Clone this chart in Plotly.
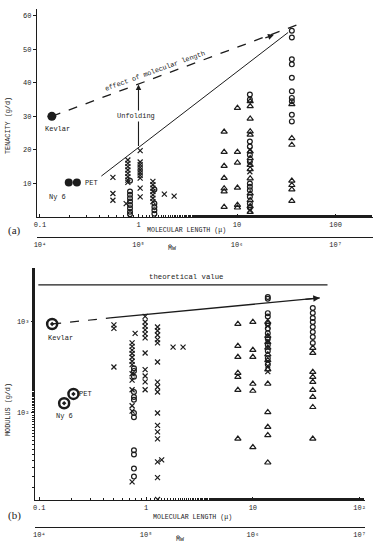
import math
import plotly.graph_objects as go

W, H = 379, 550
INK = "#1c1c1c"
MONO = "Liberation Mono"

# ---------------- Panel (a): tenacity (g/d) vs molecular length (micron)
a_kevlar_L = [0.132]
a_kevlar_v = [30]
a_fibers_L = [0.196, 0.237]   # Ny 6, PET
a_fibers_v = [10.3, 10.3]

a_crossA_L, a_crossA_v = 0.55, [11.8, 7.0, 5.0]
a_crossB_L, a_crossB_v = 0.78, [17, 16, 15, 14, 13, 12, 11, 10.3]
a_crossB2_L, a_crossB2_v = 0.75, [4.0]
a_crossC_L, a_crossC_v = 1.04, [19.8, 16.4, 15.6, 14.8, 14.0, 13.2, 12.4, 11.6, 8.6, 6.0]
a_crossD_L, a_crossD_v = 1.40, [10.6, 9.6, 8.6, 7.6, 6.6, 5.6, 4.6]
a_crossE_L, a_crossE_v = [1.83, 2.3], [6.8, 6.2]
a_crossT3_L, a_crossT3_v = 13.5, [20, 16, 13.5, 2]

a_circB_L, a_circB_v = 0.82, [10.8, 7.6, 6.6, 5.6, 4.6, 3.6, 2.6, 1.6, 0.8]
a_circD_L, a_circD_v = 1.45, [8.2, 4.0, 3.0, 2.0, 1.0]
a_circT3_L, a_circT3_v = 13.5, [36.5, 35, 22.5, 21, 18.5, 16.5, 10, 9, 8, 6, 4, 2.8]
a_circT4_L, a_circT4_v = 36, [55.5, 53.5, 47, 45.5, 41.5, 37.5, 35.5, 34.5, 30.5, 28.5]

a_triT1_L, a_triT1_v = 7.4, [25.4, 19.4, 15.2, 11.6, 8.5, 7.6, 3.0]
a_triT2_L, a_triT2_v = 10.1, [32.5, 19.4, 16.2, 8.7, 3.6, 2.8]
a_triT3_L, a_triT3_v = 13.6, [34.5, 33, 29.3, 25.5, 24.5, 19.5, 17.5, 15.5, 14.2, 11.5, 7, 5, 3.2, 1.5]
a_triT4_L, a_triT4_v = 36, [33.6, 23.5, 21.5, 10.8, 9.5, 8.2, 4.8]

a_trend_L, a_trend_v = [0.42, 33], [12.2, 55]           # solid line
a_effect_L, a_effect_v = [0.132, 41], [30, 57.3]         # dashed line
a_effect_arrow_L, a_effect_arrow_v = [18.7, 23.7], [53.25, 54.3]
a_unfold_L, a_unfold_v = [1.0, 1.0], [20.7, 39.5]

a_xticks = [0.1, 1, 10, 100]
a_xticktext = ["0.1", "1", "10", "100"]
a_yticks = [10, 20, 30, 40, 50, 60]
mw_ticks = [1e4, 1e5, 1e6, 1e7]
mw_ticktext = ["10⁴", "10⁵", "10⁶", "10⁷"]

# ---------------- Panel (b): modulus (g/d) vs molecular length
b_kevlar_L, b_kevlar_v = [0.132], [951]
b_fibers_L, b_fibers_v = [0.171, 0.209], [128, 162]   # Ny 6, PET

b_crossB1_L, b_crossB1_v = 0.5, [930, 850, 320]
b_crossB2_L, b_crossB2_v = 0.74, [590, 540, 490, 450, 410, 370, 340, 270, 230, 180, 120, 105, 17.5]
b_crossB2b_L, b_crossB2b_v = 0.79, [750]
b_crossB3_L, b_crossB3_v = 0.98, [1150, 1000, 900, 820, 740, 670, 456, 300, 255, 220, 180]
b_crossB4_L, b_crossB4_v = 1.28, [880, 800, 720, 640, 590, 363, 218, 193, 170, 100, 73, 62, 52, 29, 19.5, 11.2]
b_crossB4b_L, b_crossB4b_v = 1.4, [30.5]
b_crossB5_L, b_crossB5_v = [1.79, 2.22], [530, 530]
b_crossT3_L, b_crossT3_v = 13.8, [900, 620, 330, 285]

b_circB2_L, b_circB2_v = 0.77, [310, 290, 250, 170, 150, 140, 100, 90, 39, 35, 24.5, 20]
b_circT3_L, b_circT3_v = 13.8, [1880, 1800, 1250, 1150, 950, 850, 750, 650, 560, 480, 400, 340]
b_circT4_L, b_circT4_v = 36.4, [1425, 1256, 1107, 1000, 880, 776, 684, 588]

b_triT1_L, b_triT1_v = 7.24, [951, 545, 412, 275, 249, 179, 52]
b_triT2_L, b_triT2_v = 10.0, [1000, 492, 412, 209, 175, 42]
b_triT3_L, b_triT3_v = 13.8, [1000, 700, 600, 520, 440, 380, 300, 209, 102, 70, 57, 28.5]
b_triT4_L, b_triT4_v = 36.4, [518, 456, 282, 249, 219, 179, 150, 116, 52]

b_theory_L, b_theory_v = [0.098, 50], [2550, 2550]
b_dash_L, b_dash_v = [0.132, 0.46], [951, 1107]
b_arrow_L, b_arrow_v = [0.46, 42.3], [1107, 1837]
b_arrowhead_L, b_arrowhead_v = [30, 42.3], [1765, 1837]

b_xticks = [0.1, 1, 10, 100]
b_xticktext = ["0.1", "1", "10", "10²"]
b_yticks = [100, 1000]
b_yticktext = ["10²", "10³"]


def fx(p):
    return p / W


def fy(p):
    return 1 - p / H


def col(L, vals):
    if isinstance(L, list):
        return L, vals
    return [L] * len(vals), vals


def merge(*cols):
    xs, ys = [], []
    for L, v in cols:
        cx, cy = col(L, v)
        xs += cx
        ys += cy
    return xs, ys


fig = go.Figure()

cross = dict(symbol="x-thin", size=5, color=INK, line=dict(width=1.2, color=INK))
circ = dict(symbol="circle-open", size=4.8, color=INK, line=dict(width=1.2, color=INK))
tri = dict(symbol="triangle-up-open", size=5.5, color=INK, line=dict(width=1.2, color=INK))


def pts(xs, ys, marker, xa, ya):
    fig.add_trace(go.Scatter(x=xs, y=ys, mode="markers", marker=marker,
                             xaxis=xa, yaxis=ya, showlegend=False, hoverinfo="skip"))


def line(xs, ys, xa, ya, dash="solid", width=1):
    fig.add_trace(go.Scatter(x=xs, y=ys, mode="lines", line=dict(color=INK, width=width, dash=dash),
                             xaxis=xa, yaxis=ya, showlegend=False, hoverinfo="skip"))


# ---- panel a traces
line(a_trend_L, a_trend_v, "x", "y")
line(a_effect_L, a_effect_v, "x", "y", dash="dash", width=1.3)
x, y = merge((a_crossA_L, a_crossA_v), (a_crossB_L, a_crossB_v), (a_crossB2_L, a_crossB2_v),
             (a_crossC_L, a_crossC_v), (a_crossD_L, a_crossD_v), (a_crossE_L, a_crossE_v),
             (a_crossT3_L, a_crossT3_v))
pts(x, y, cross, "x", "y")
x, y = merge((a_circB_L, a_circB_v), (a_circD_L, a_circD_v), (a_circT3_L, a_circT3_v),
             (a_circT4_L, a_circT4_v))
pts(x, y, circ, "x", "y")
x, y = merge((a_triT1_L, a_triT1_v), (a_triT2_L, a_triT2_v), (a_triT3_L, a_triT3_v),
             (a_triT4_L, a_triT4_v))
pts(x, y, tri, "x", "y")
pts(a_kevlar_L, a_kevlar_v, dict(symbol="circle", size=9, color=INK), "x", "y")
pts(a_fibers_L, a_fibers_v, dict(symbol="circle", size=8, color=INK), "x", "y")

# ---- panel b traces
line(b_theory_L, b_theory_v, "x2", "y2", width=1.2)
line(b_dash_L, b_dash_v, "x2", "y2", dash="dash", width=1.2)
line(b_arrow_L, b_arrow_v, "x2", "y2", width=1.3)
x, y = merge((b_crossB1_L, b_crossB1_v), (b_crossB2_L, b_crossB2_v), (b_crossB2b_L, b_crossB2b_v),
             (b_crossB3_L, b_crossB3_v), (b_crossB4_L, b_crossB4_v), (b_crossB4b_L, b_crossB4b_v),
             (b_crossB5_L, b_crossB5_v), (b_crossT3_L, b_crossT3_v))
pts(x, y, cross, "x2", "y2")
x, y = merge((b_circB2_L, b_circB2_v), (b_circT3_L, b_circT3_v), (b_circT4_L, b_circT4_v))
pts(x, y, circ, "x2", "y2")
x, y = merge((b_triT1_L, b_triT1_v), (b_triT2_L, b_triT2_v), (b_triT3_L, b_triT3_v),
             (b_triT4_L, b_triT4_v))
pts(x, y, tri, "x2", "y2")
bigring = dict(symbol="circle-open-dot", size=10, color=INK, line=dict(width=2.5, color=INK))
pts(b_kevlar_L, b_kevlar_v, bigring, "x2", "y2")
pts(b_fibers_L, b_fibers_v, bigring, "x2", "y2")

# invisible anchors for the Mw axes
fig.add_trace(go.Scatter(x=[1e5], y=[None], xaxis="x3", yaxis="y", mode="markers",
                         showlegend=False, hoverinfo="skip"))
fig.add_trace(go.Scatter(x=[1e5], y=[None], xaxis="x4", yaxis="y2", mode="markers",
                         showlegend=False, hoverinfo="skip"))

tickfont = dict(family=MONO, size=7, color=INK)
base = dict(showline=True, linecolor=INK, linewidth=1.2, showgrid=False, zeroline=False,
            tickfont=tickfont, tickcolor=INK)

fig.update_layout(
    template="none",
    font=dict(family=MONO, color=INK, size=7),
    width=W, height=H, margin=dict(l=0, r=0, t=0, b=0, pad=0),
    paper_bgcolor="white", plot_bgcolor="white", showlegend=False,
    xaxis=dict(base, type="log", range=[-1.03, 2.38], domain=[fx(37), fx(373)], anchor="y",
               tickvals=a_xticks, ticktext=a_xticktext, ticks="inside", ticklen=3,
               minor=dict(ticks="inside", ticklen=2, tickcolor=INK, showgrid=False)),
    yaxis=dict(base, range=[0, 62], domain=[fy(217), fy(9)], anchor="x",
               tickvals=a_yticks, ticks="outside", ticklen=3),
    xaxis2=dict(base, type="log", range=[-1.04, 2.05], domain=[fx(35), fx(365)], anchor="y2",
                tickvals=b_xticks, ticktext=b_xticktext, ticks="inside", ticklen=3,
                minor=dict(ticks="inside", ticklen=2, tickcolor=INK, showgrid=False)),
    yaxis2=dict(base, type="log", range=[1.044, 3.593], domain=[fy(500), fy(268)], anchor="x2",
                tickvals=b_yticks, ticktext=b_yticktext, ticks="outside", ticklen=3,
                minor=dict(ticks="outside", ticklen=2, tickcolor=INK, showgrid=False)),
    xaxis3=dict(base, type="log", range=[3.97, 7.38], overlaying="x", anchor="free",
                position=fy(237), side="bottom", tickvals=mw_ticks, ticktext=mw_ticktext, ticks=""),
    xaxis4=dict(base, type="log", range=[3.96, 7.05], overlaying="x2", anchor="free",
                position=fy(527), side="bottom", tickvals=mw_ticks, ticktext=mw_ticktext, ticks=""),
)

ann = []


def text(t, px, py, size=7, angle=0, family=MONO, xanchor="center", bg=None):
    d = dict(text=t, x=fx(px), y=fy(py), xref="paper", yref="paper", showarrow=False,
             font=dict(family=family, size=size, color=INK), textangle=angle,
             xanchor=xanchor, yanchor="middle")
    if bg:
        d["bgcolor"] = bg
    ann.append(d)


def arrow(Ls, vs, xa, ya, width=1.2, logy=False):
    f = (lambda v: math.log10(v)) if logy else (lambda v: v)
    ann.append(dict(x=math.log10(Ls[1]), y=f(vs[1]), ax=math.log10(Ls[0]), ay=f(vs[0]),
                    xref=xa, yref=ya, axref=xa, ayref=ya, text="", showarrow=True,
                    arrowhead=2, arrowsize=1, arrowwidth=width, arrowcolor=INK, standoff=0))


# panel a annotations
arrow(a_unfold_L, a_unfold_v, "x", "y", width=1.1)
arrow(a_effect_arrow_L, a_effect_arrow_v, "x", "y", width=1.2)
text("Unfolding", 136, 116, size=7, bg="white")
text("effect of molecular length", 155, 71, size=6.8, angle=-20)
text("Kevlar", 57, 129, size=7)
text("PET", 83, 183, size=7, xanchor="left")
text("Ny 6", 57, 197, size=7)
text("TENACITY (g/d)", 8, 126, size=6.8, angle=-90)
text("MOLECULAR LENGTH (μ)", 186, 230, size=6.6)
text("M̄w", 172, 248, size=6.6)
text("(a)", 14, 230, size=11, family="Liberation Serif")

# panel b annotations
arrow(b_arrowhead_L, b_arrowhead_v, "x2", "y2", width=1.3, logy=True)
text("theoretical value", 186, 277, size=7.3)
text("Kevlar", 60, 338, size=7)
text("PET", 77, 394, size=7, xanchor="left")
text("Ny 6", 64, 416, size=7)
text("MODULUS (g/d)", 8, 410, size=6.8, angle=-90)
text("MOLECULAR LENGTH (μ)", 192, 517, size=6.6)
text("M̄w", 180, 539, size=6.6)
text("(b)", 14, 515, size=11, family="Liberation Serif")

fig.update_layout(annotations=ann)
fig.write_html("out.html", config={"displayModeBar": False},
               post_script="document.body.style.margin='0';document.body.style.overflow='hidden';")
